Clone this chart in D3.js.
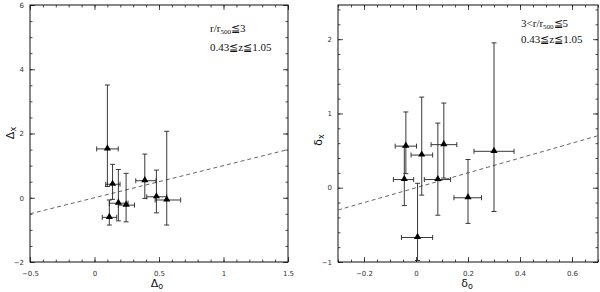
<!DOCTYPE html>
<head>
<meta charset="utf-8">
<script src="https://d3js.org/d3.v7.min.js"></script>
<style>
body { margin:0; background:#fff; }
.tick text { font: 7px "DejaVu Sans", sans-serif; fill:#333; }
.note { font: 11px "Liberation Serif", serif; fill:#111; }
.lab { font: 11px "DejaVu Sans", sans-serif; fill:#111; }
</style>
</head>
<body>
<script>
// left panel: Delta_o vs Delta_x
var leftX    = [0.10, 0.14, 0.185, 0.245, 0.115, 0.39, 0.48, 0.56];
var leftXlo  = [0.017, 0.087, 0.115, 0.185, 0.06, 0.32, 0.405, 0.47];
var leftXhi  = [0.184, 0.198, 0.26, 0.31, 0.172, 0.477, 0.56, 0.668];
var leftY    = [1.52, 0.42, -0.17, -0.23, -0.61, 0.53, 0.03, -0.07];
var leftYlo  = [0.35, -0.05, -0.72, -0.75, -0.85, -0.02, -0.47, -0.85];
var leftYhi  = [3.51, 1.04, 0.88, 0.76, -0.07, 1.36, 0.86, 2.07];
// right panel: delta_o vs delta_x
var rightX   = [-0.039, 0.022, 0.107, -0.045, 0.084, 0.006, 0.20, 0.30];
var rightXlo = [-0.08, -0.019, 0.058, -0.087, 0.032, -0.056, 0.146, 0.223];
var rightXhi = [0.002, 0.064, 0.157, -0.009, 0.133, 0.064, 0.252, 0.377];
var rightY   = [0.56, 0.44, 0.58, 0.11, 0.11, -0.67, -0.135, 0.49];
var rightYlo = [0.19, -0.10, 0.13, -0.24, -0.37, -0.98, -0.48, -0.32];
var rightYhi = [1.02, 1.22, 1.14, 0.55, 0.87, 0.06, 0.38, 1.95];

var leftXTicks = [-0.5, 0, 0.5, 1, 1.5];
var leftYTicks = [-2, 0, 2, 4, 6];
var rightXTicks = [-0.2, 0, 0.2, 0.4, 0.6];
var rightYTicks = [-1, 0, 1, 2];

var svg = d3.select("body").append("svg").attr("width", 600).attr("height", 292);

function panel(o) {
  var x = d3.scaleLinear().domain(o.xd).range([o.x0, o.x1]);
  var y = d3.scaleLinear().domain(o.yd).range([262, 5]);
  var g = svg.append("g");

  // ticks on four sides, pointing inward
  function xt(vals, len, withLabels) {
    g.append("g").attr("transform", "translate(0,262)")
      .call(d3.axisBottom(x).tickValues(vals).tickSize(-len).tickPadding(len > 3 ? 9 : 0)
        .tickFormat(withLabels ? d3.format("") : ""));
    g.append("g").attr("transform", "translate(0,5)")
      .call(d3.axisTop(x).tickValues(vals).tickSize(-len).tickFormat(""));
  }
  function yt(vals, len, withLabels) {
    g.append("g").attr("transform", "translate(" + o.x0 + ",0)")
      .call(d3.axisLeft(y).tickValues(vals).tickSize(-len).tickPadding(6)
        .tickFormat(withLabels ? d3.format("") : ""));
    g.append("g").attr("transform", "translate(" + o.x1 + ",0)")
      .call(d3.axisRight(y).tickValues(vals).tickSize(-len).tickFormat(""));
  }
  var xMinor = d3.range(o.xd[0], o.xd[1] + 1e-9, o.xm).map(function(v){ return +v.toFixed(3); });
  var yMinor = d3.range(Math.ceil(o.yd[0] / o.ym) * o.ym, o.yd[1] + 1e-9, o.ym).map(function(v){ return +v.toFixed(3); });
  xt(xMinor, 2.5, false);
  xt(o.xMajor, 5, true);
  yt(yMinor, 2.5, false);
  yt(o.yMajor, 5, true);
  g.selectAll(".domain").remove();
  g.selectAll(".tick line").attr("stroke", "#222").attr("stroke-width", 0.8);

  g.append("rect").attr("x", o.x0).attr("y", 5).attr("width", o.x1 - o.x0).attr("height", 257)
    .attr("fill", "none").attr("stroke", "#111").attr("stroke-width", 1);

  // one-to-one dashed line
  var clip = "c" + o.x0;
  svg.append("clipPath").attr("id", clip).append("rect")
    .attr("x", o.x0).attr("y", 5).attr("width", o.x1 - o.x0).attr("height", 257);
  g.append("line").attr("clip-path", "url(#" + clip + ")")
    .attr("x1", x(o.xd[0])).attr("y1", y(o.xd[0]))
    .attr("x2", x(o.xd[1])).attr("y2", y(o.xd[1]))
    .attr("stroke", "#555").attr("stroke-width", 0.9).attr("stroke-dasharray", "4,3");

  var pts = o.px.map(function(d, i) {
    return {x: d, xl: o.pxl[i], xh: o.pxh[i], y: o.py[i], yl: o.pyl[i], yh: o.pyh[i]};
  });
  var cap = 2.5;
  var e = g.append("g").attr("stroke", "#222").attr("stroke-width", 0.9);
  pts.forEach(function(p) {
    e.append("line").attr("x1", x(p.x)).attr("x2", x(p.x)).attr("y1", y(p.yl)).attr("y2", y(p.yh));
    e.append("line").attr("x1", x(p.x) - cap).attr("x2", x(p.x) + cap).attr("y1", y(p.yl)).attr("y2", y(p.yl));
    e.append("line").attr("x1", x(p.x) - cap).attr("x2", x(p.x) + cap).attr("y1", y(p.yh)).attr("y2", y(p.yh));
    e.append("line").attr("x1", x(p.xl)).attr("x2", x(p.xh)).attr("y1", y(p.y)).attr("y2", y(p.y));
    e.append("line").attr("x1", x(p.xl)).attr("x2", x(p.xl)).attr("y1", y(p.y) - cap).attr("y2", y(p.y) + cap);
    e.append("line").attr("x1", x(p.xh)).attr("x2", x(p.xh)).attr("y1", y(p.y) - cap).attr("y2", y(p.y) + cap);
  });
  g.selectAll(".pt").data(pts).enter().append("path")
    .attr("d", d3.symbol().type(d3.symbolTriangle).size(22))
    .attr("transform", function(p){ return "translate(" + x(p.x) + "," + (y(p.y) - 0.5) + ")"; })
    .attr("fill", "#000");

  // annotations
  var t1 = g.append("text").attr("class", "note").attr("x", o.nx).attr("y", o.ny1);
  if (o.pre) t1.append("tspan").text(o.pre);
  t1.append("tspan").text("r/r");
  t1.append("tspan").attr("font-size", "7px").attr("dy", 2).text("500");
  t1.append("tspan").attr("dy", -2).text("≦" + o.post);
  g.append("text").attr("class", "note").attr("x", o.nx).attr("y", o.ny2).text("0.43≦z≦1.05");

  // axis labels
  var xl = g.append("text").attr("class", "lab").attr("x", o.lx).attr("y", 287).attr("text-anchor", "middle");
  xl.append("tspan").text(o.sym);
  xl.append("tspan").attr("font-size", "8px").attr("dy", 2).text("o");
  var yl = g.append("text").attr("class", "lab").attr("text-anchor", "middle")
    .attr("transform", "translate(" + o.ly + "," + o.lyy + ") rotate(-90)");
  yl.append("tspan").text(o.sym);
  yl.append("tspan").attr("font-size", "8px").attr("dy", 2).text("x");
}

panel({xd: [-0.5, 1.5], yd: [-2, 6], x0: 30, x1: 288, xMajor: leftXTicks, yMajor: leftYTicks,
  xm: 0.1, ym: 0.5, px: leftX, pxl: leftXlo, pxh: leftXhi, py: leftY, pyl: leftYlo, pyh: leftYhi,
  nx: 210, ny1: 32, ny2: 51, pre: "", post: "3", sym: "Δ", lx: 157, ly: 14, lyy: 133});
panel({xd: [-0.3, 0.7], yd: [-1, 2.46], x0: 338, x1: 598, xMajor: rightXTicks, yMajor: rightYTicks,
  xm: 0.05, ym: 0.2, px: rightX, pxl: rightXlo, pxh: rightXhi, py: rightY, pyl: rightYlo, pyh: rightYhi,
  nx: 521, ny1: 27, ny2: 43, pre: "3<", post: "5", sym: "δ", lx: 467, ly: 322, lyy: 140});
</script>
</body>
